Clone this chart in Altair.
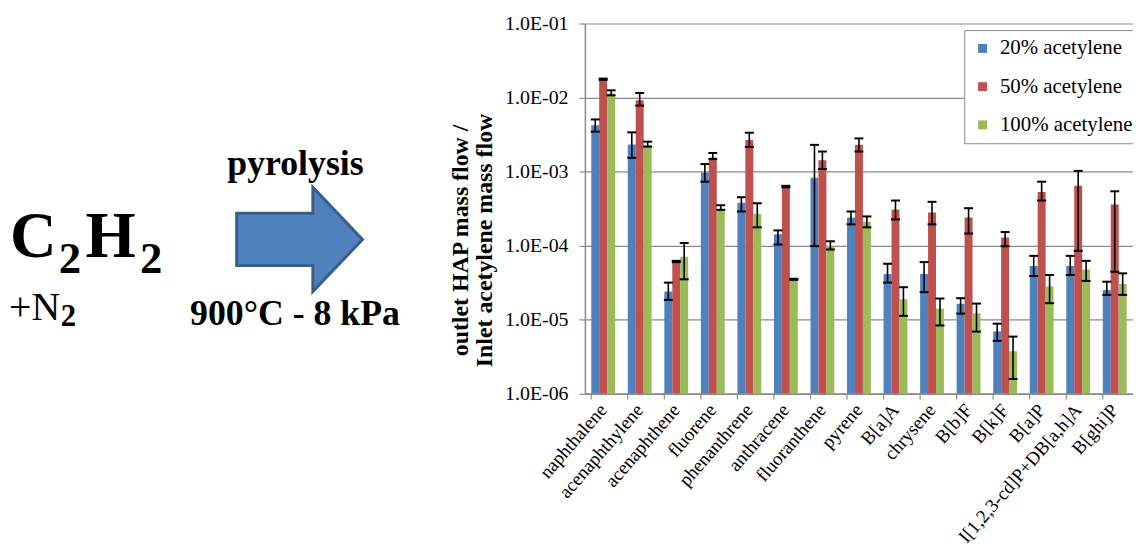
import altair as alt
import pandas as pd

categories = ["naphthalene", "acenaphthylene", "acenaphthene", "fluorene", "phenanthrene",
              "anthracene", "fluoranthene", "pyrene", "B[a]A", "chrysene", "B[b]F", "B[k]F",
              "B[a]P", "I[1,2,3-cd]P+DB[a,h]A", "B[ghi]P"]
series = ["20% acetylene", "50% acetylene", "100% acetylene"]
colors = ["#4F81BD", "#C0504D", "#9BBB59"]

v20 = [4.2e-3, 2.31e-3, 2.38e-5, 9.7e-4, 3.77e-4, 1.42e-4, 8.24e-4, 2.39e-4, 4.11e-5, 4.11e-5, 1.63e-5, 6.9e-6, 5.27e-5, 5.27e-5, 2.51e-5]
hi20 = [5.05e-3, 3.38e-3, 3.15e-5, 1.26e-3, 4.49e-4, 1.6e-4, 2.29e-3, 2.88e-4, 5.66e-5, 5.96e-5, 1.94e-5, 8.77e-6, 7.24e-5, 7.24e-5, 3.24e-5]
lo20 = [3.45e-3, 1.53e-3, 1.84e-5, 7.28e-4, 2.88e-4, 1.03e-4, 9.8e-5, 1.93e-4, 3.15e-5, 2.34e-5, 1.2e-5, 5.14e-6, 3.87e-5, 3.99e-5, 2.15e-5]

v50 = [1.77e-2, 9.18e-3, 6.08e-5, 1.54e-3, 2.67e-3, 6.24e-4, 1.42e-3, 2.29e-3, 3.07e-4, 2.79e-4, 2.39e-4, 1.28e-4, 5.3e-4, 6.44e-4, 3.58e-4]
hi50 = [1.8e-2, 1.15e-2, 6.2e-5, 1.78e-3, 3.34e-3, 6.4e-4, 1.86e-3, 2.8e-3, 4.05e-4, 3.89e-4, 3.19e-4, 1.52e-4, 7.28e-4, 1.02e-3, 5.4e-4]
lo50 = [1.73e-2, 7.78e-3, 5.95e-5, 1.47e-3, 2.15e-3, 6.1e-4, 1.08e-3, 1.86e-3, 2.25e-4, 1.93e-4, 1.45e-4, 9.77e-5, 4.05e-4, 8.45e-5, 4.42e-5]

v100 = [1.13e-2, 2.24e-3, 7.03e-5, 3.13e-4, 2.69e-4, 3.49e-5, 9.8e-5, 2.09e-4, 1.88e-5, 1.4e-5, 1.21e-5, 3.73e-6, 2.78e-5, 4.75e-5, 3.02e-5]
hi100 = [1.25e-2, 2.53e-3, 1.08e-4, 3.5e-4, 3.72e-4, 3.55e-5, 1.14e-4, 2.47e-4, 2.73e-5, 1.92e-5, 1.64e-5, 5.87e-6, 3.99e-5, 6.2e-5, 4.2e-5]
lo100 = [1.07e-2, 2.17e-3, 3.49e-5, 3.03e-4, 1.76e-4, 3.43e-5, 8.83e-5, 1.76e-4, 1.12e-5, 8.3e-6, 6.86e-6, 1.57e-6, 1.66e-5, 3.32e-5, 2.15e-5]

y_ticks = [1e-6, 1e-5, 1e-4, 1e-3, 1e-2, 1e-1]
y_title = ["outlet HAP mass flow /", "Inlet acetylene mass flow"]

rows = []
for s, vals, his, los in zip(series, [v20, v50, v100], [hi20, hi50, hi100], [lo20, lo50, lo100]):
    for c, v, h, l in zip(categories, vals, his, los):
        rows.append({"cat": c, "series": s, "value": v, "hi": h, "lo": l})
df = pd.DataFrame(rows)
cat_df = pd.DataFrame({"cat": categories})
dummy = pd.DataFrame({"a": [0]})

W = 552
H = 372.6
SERIF = "Liberation Serif"
GRAY = "#8a8a8a"

xscale = alt.Scale(paddingInner=0.348, paddingOuter=0.174)
xaxis = alt.Axis(title=None, labelAngle=311, labelFont=SERIF, labelFontSize=19, labelColor="black",
                 ticks=False, domainColor=GRAY, domainWidth=1.5, labelPadding=13,
                 labelAlign="right", labelBaseline="middle", labelLimit=500)
yscale = alt.Scale(type="log", domain=[1e-6, 1e-1])
yaxis = alt.Axis(values=y_ticks,
                 labelExpr="'1.0E-0' + format(-round(log(datum.value) / LN10), 'd')",
                 grid=True, gridColor=GRAY, gridWidth=1.2, domainColor=GRAY, domainWidth=1.5,
                 tickColor=GRAY, tickSize=6, tickWidth=1.2, labelPadding=11,
                 labelFont=SERIF, labelFontSize=20, labelColor="black",
                 title=y_title, titleFont=SERIF, titleFontSize=24, titleFontWeight="bold",
                 titleColor="black", titleAngle=270, titleX=-125, titleY=218,
                 titleAlign="center", titleBaseline="middle", titleLineHeight=24)

X = alt.X("cat:N", sort=categories, scale=xscale, axis=xaxis)
XO = alt.XOffset("series:N", sort=series, scale=alt.Scale(paddingInner=0, paddingOuter=0))

bars = alt.Chart(df).mark_bar().encode(
    x=X, xOffset=XO,
    y=alt.Y("value:Q", scale=yscale, axis=yaxis),
    y2=alt.datum(1e-6),
    color=alt.Color("series:N", sort=series, scale=alt.Scale(domain=series, range=colors),
                    legend=alt.Legend(title=None, orient="none", legendX=382, legendY=6.6,
                                      strokeColor=GRAY, fillColor="white", padding=8,
                                      symbolType="square", symbolSize=81, symbolStrokeWidth=0,
                                      labelFont=SERIF, labelFontSize=21, labelColor="black",
                                      rowPadding=16.5, labelOffset=7)),
)

err = alt.Chart(df).mark_rule(color="black", strokeWidth=1.6).encode(
    x=X, xOffset=XO,
    y=alt.Y("lo:Q", scale=yscale, axis=yaxis),
    y2="hi:Q",
)
cap_hi = alt.Chart(df).mark_tick(orient="horizontal", color="black", thickness=2, size=9, opacity=1).encode(
    x=X, xOffset=XO, y=alt.Y("hi:Q", scale=yscale, axis=yaxis))
cap_lo = alt.Chart(df).mark_tick(orient="horizontal", color="black", thickness=2, size=9, opacity=1).encode(
    x=X, xOffset=XO, y=alt.Y("lo:Q", scale=yscale, axis=yaxis))

xticks = alt.Chart(cat_df).mark_rule(color=GRAY, strokeWidth=1.2).encode(
    x=alt.X("cat:N", sort=categories, scale=xscale, axis=xaxis, bandPosition=0),
    y=alt.value(H), y2=alt.value(H + 6),
)


def txt(text, x, y, size, weight="bold", align="left"):
    return alt.Chart(dummy).mark_text(text=text, font=SERIF, fontSize=size, fontWeight=weight,
                                      align=align, baseline="alphabetic", color="black").encode(
        x=alt.value(x), y=alt.value(y))


OX, OY = 589, 21.7
labels = [
    txt("C", 10 - OX, 256.7 - OY, 65),
    txt("2", 59 - OX, 273 - OY, 45),
    txt("H", 86 - OX, 256.7 - OY, 65),
    txt("2", 141 - OX, 273 - OY, 45),
    txt("+N", 9 - OX, 320 - OY, 40, weight="normal"),
    txt("2", 61 - OX, 326.7 - OY, 31),
    txt("pyrolysis", 297.5 - OX, 174 - OY, 36, align="center"),
    txt("900°C - 8 kPa", 297 - OX, 325 - OY, 36, align="center"),
]

arrow_path = "M -1 -0.416 L 0.211 -0.416 L 0.211 -0.829 L 1 0 L 0.211 0.829 L 0.211 0.416 L -1 0.416 Z"
arrow = alt.Chart(dummy).mark_point(shape=arrow_path, size=16053, filled=True, fill="#4F81BD",
                                    stroke="#385D8A", strokeWidth=3, opacity=1).encode(
    x=alt.value(301.65 - OX), y=alt.value(239.2 - OY))

chart = alt.layer(bars, err, cap_hi, cap_lo, xticks, arrow, *labels).properties(
    width=W, height=H,
    autosize=alt.AutoSizeParams(type="none"),
    padding={"left": 581, "top": 13.7, "right": 0, "bottom": 152},
).configure(font=SERIF).configure_view(stroke=None).configure_axis(
    labelFont=SERIF, titleFont=SERIF
).configure_legend(labelFont=SERIF)

chart.save("out.html", embed_options={"renderer": "svg", "actions": False})
